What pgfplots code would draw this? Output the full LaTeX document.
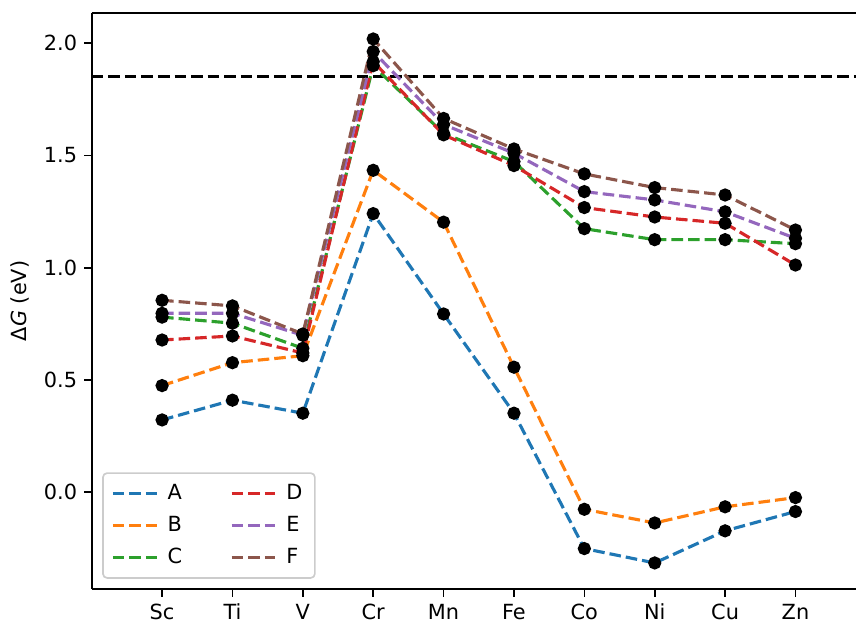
\documentclass[border=0pt]{standalone}
\usepackage{fontspec}
\setmainfont{DejaVu Sans}
\usepackage{pgfplots}
\usepackage{pgfplotstable}
\pgfplotsset{compat=1.18}
\usetikzlibrary{calc}
\definecolor{c0}{HTML}{1F77B4}
\definecolor{c1}{HTML}{FF7F0E}
\definecolor{c2}{HTML}{2CA02C}
\definecolor{c3}{HTML}{D62728}
\definecolor{c4}{HTML}{9467BD}
\definecolor{c5}{HTML}{8C564B}
\pgfplotstableread{
x A B C D E F
0 0.322 0.475 0.780 0.678 0.797 0.855
1 0.410 0.577 0.753 0.696 0.797 0.830
2 0.352 0.608 0.641 0.620 0.699 0.705
3 1.241 1.434 1.900 1.918 1.963 2.019
4 0.794 1.203 1.598 1.592 1.638 1.665
5 0.352 0.557 1.473 1.455 1.510 1.529
6 -0.251 -0.076 1.174 1.268 1.339 1.418
7 -0.315 -0.137 1.125 1.226 1.302 1.357
8 -0.172 -0.065 1.125 1.198 1.249 1.324
9 -0.086 -0.024 1.107 1.012 1.131 1.168
}\data
\begin{document}
\begin{tikzpicture}
\begin{axis}[
  scale only axis, width=366.7pt, height=276.6pt,
  xmin=-1, xmax=9.86, ymin=-0.432, ymax=2.136,
  axis y line*=left,
  xtick pos=left, ytick pos=left,
  tick align=outside, major tick length=3.5pt,
  every tick/.style={black, line width=0.8pt},
  axis line style={line width=0.8pt},
  xtick={0,...,9},
  xticklabels={Sc,Ti,V,Cr,Mn,Fe,Co,Ni,Cu,Zn},
  ytick={0,0.5,1,1.5,2},
  /pgf/number format/assume math mode=true,
  yticklabel style={/pgf/number format/.cd, fixed, fixed zerofill, precision=1},
  ticklabel style={font=\fontsize{10}{12}\selectfont},
  ylabel={Δ\textit{G} (eV)},
  ylabel style={font=\fontsize{10}{12}\selectfont},
  legend columns=2,
  legend cell align=left,
  legend image code/.code={\draw[#1] (0pt,0pt) -- (21pt,0pt);},
  legend style={at={(0,0)}, anchor=south west, xshift=5pt, yshift=5pt,
    draw=white!80!black, rounded corners=2pt, line width=0.8pt,
    font=\fontsize{10}{12}\selectfont,
    /tikz/every odd column/.append style={column sep=2.5pt},
    /tikz/every even column/.append style={column sep=21pt},
    row sep=2.6pt, inner xsep=4pt, inner ysep=3.3pt},
  every axis plot/.append style={line width=1.5pt, dash pattern=on 5.55pt off 2.4pt,
    mark=*, mark size=2.4pt, mark options={solid, fill=black, draw=black}},
]
\addlegendimage{c0, line width=1.5pt, dash pattern=on 5.55pt off 2.4pt} \addlegendentry{A}
\addlegendimage{c3, line width=1.5pt, dash pattern=on 5.55pt off 2.4pt} \addlegendentry{D}
\addlegendimage{c1, line width=1.5pt, dash pattern=on 5.55pt off 2.4pt} \addlegendentry{B}
\addlegendimage{c4, line width=1.5pt, dash pattern=on 5.55pt off 2.4pt} \addlegendentry{E}
\addlegendimage{c2, line width=1.5pt, dash pattern=on 5.55pt off 2.4pt} \addlegendentry{C}
\addlegendimage{c5, line width=1.5pt, dash pattern=on 5.55pt off 2.4pt} \addlegendentry{F}
\addplot[black, forget plot, mark=none] coordinates {(-1,1.85) (9.86,1.85)};
\addplot[c0, forget plot] table[x=x,y=A]{\data};
\addplot[c1, forget plot] table[x=x,y=B]{\data};
\addplot[c2, forget plot] table[x=x,y=C]{\data};
\addplot[c3, forget plot] table[x=x,y=D]{\data};
\addplot[c4, forget plot] table[x=x,y=E]{\data};
\addplot[c5, forget plot] table[x=x,y=F]{\data};
\end{axis}
\pgfresetboundingbox
\path ($(current axis.north west)+(-44.0pt,6.1pt)$) rectangle ($(current axis.south east)+(0pt,-16.8pt)$);
\end{tikzpicture}
\end{document}
